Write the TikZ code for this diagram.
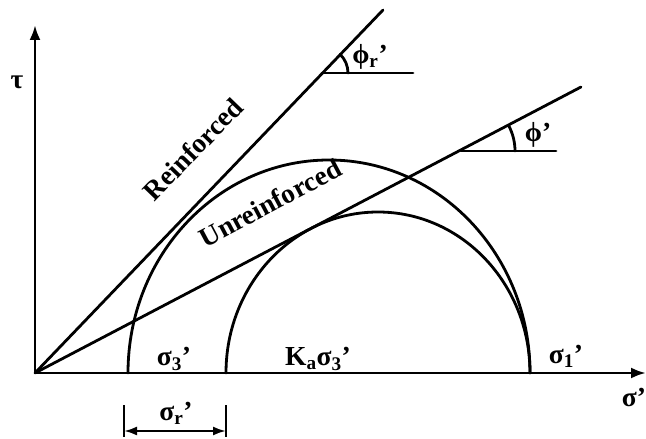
\documentclass[tikz,border=0pt]{standalone}
\usepackage{fontspec}
\setmainfont{Liberation Serif}
\usetikzlibrary{arrows.meta,positioning}
\tikzset{
  thick line/.style={line width=2.8pt, draw=black, line cap=round},
  axis/.style={line width=2.8pt, draw=black, -{Latex[length=15pt, width=11pt]}},
  dim/.style={line width=2.2pt, draw=black, {Latex[length=13pt, width=9pt]}-{Latex[length=13pt, width=9pt]}},
  lbl/.style={font=\fontsize{27.5}{31}\selectfont\bfseries, inner sep=1pt}
}

\begin{document}
\begin{tikzpicture}[x=1pt, y=1pt]
  \useasboundingbox (0,0) rectangle (646,439);

  \coordinate (O) at (35,66);
  \coordinate (xend) at (646,66);
  \coordinate (yend) at (35,414);
  \coordinate (rend) at (383,429);
  \coordinate (uend) at (581,352);

  % axes
  \draw[axis] (O) -- (xend);
  \draw[axis] (O) -- (yend);

  % Mohr circles
  \draw[thick line] (530,66) arc[start angle=0, end angle=180, x radius=201, y radius=213];
  \draw[thick line] (530,66) arc[start angle=0, end angle=180, x radius=152, y radius=161];

  % failure envelopes
  \draw[thick line] (O) -- (rend);
  \draw[thick line] (O) -- (uend);

  % friction angles
  \coordinate (pr) at (322,366);
  \coordinate (pu) at (461,288);
  \draw[thick line] (pr) -- ++(91,0);
  \draw[thick line] (pr) ++(26,0) arc[start angle=0, end angle=46, radius=26];
  \draw[thick line] (pu) -- ++(95,0);
  \draw[thick line] (pu) ++(54,0) arc[start angle=0, end angle=28, radius=54];

  \node[lbl] (phir) at (370,382) {ϕ\textsubscript{r}’};
  \node[lbl] (phi) at (538,304) {ϕ’};

  \node[lbl, rotate=46] (reinf) at (193,290) {Reinforced};
  \node[lbl, rotate=28] (unreinf) at (270,236) {Unreinforced};

  \node[lbl] (tau) at (17,357) {τ};
  \node[lbl] (s3) at (174,80) {σ\textsubscript{3}’};
  \node[lbl] (kas3) at (318,80) {K\textsubscript{a}σ\textsubscript{3}’};
  \node[lbl] (s1) at (566,83) {σ\textsubscript{1}’};
  \node[lbl] (sig) at (634,42) {σ’};

  % dimension
  \coordinate (da) at (124,2);
  \coordinate (db) at (226,2);
  \draw[thick line, line cap=butt] (da) -- ++(0,32);
  \draw[thick line, line cap=butt] (db) -- ++(0,32);
  \draw[dim] ([yshift=6pt]da) -- ([yshift=6pt]db);
  \node[lbl] (sr) at (176,26) {σ\textsubscript{r}’};
\end{tikzpicture}
\end{document}
